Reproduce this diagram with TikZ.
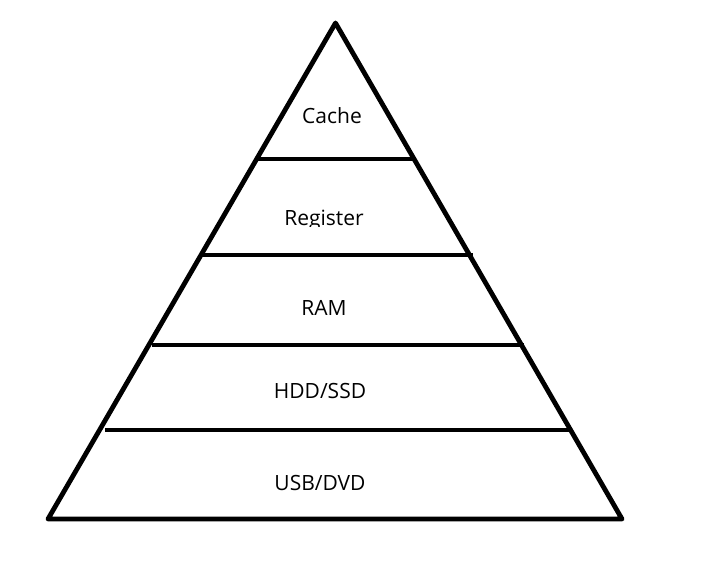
\documentclass[tikz,border=0pt]{standalone}
\usepackage{fontspec}
\setmainfont{Open Sans}
\begin{document}
\begin{tikzpicture}[x=1pt,y=-1pt,
  edge/.style={line width=4.8pt,black},
  lbl/.style={font=\fontsize{21}{24}\selectfont,anchor=base,inner sep=0pt}]
\useasboundingbox (0,0) rectangle (710,586);
\coordinate (apex) at (335.5,23);
\coordinate (bl) at (48,519);
\coordinate (br) at (622,519);
\draw[edge,line join=round] (apex) -- (br) -- (bl) -- cycle;
\coordinate (l1a) at (257,159); \coordinate (l1b) at (414,159);
\coordinate (l2a) at (203,255); \coordinate (l2b) at (473,255);
\coordinate (l3a) at (152,345); \coordinate (l3b) at (524,345);
\coordinate (l4a) at (105,430); \coordinate (l4b) at (570,430);
\draw[edge] (l1a) -- (l1b);
\draw[edge] (l2a) -- (l2b);
\draw[edge] (l3a) -- (l3b);
\draw[edge] (l4a) -- (l4b);
\node[lbl] (cache) at (332,123) {Cache};
\begin{scope}
\clip (200,190) rectangle (480,226);
\node[lbl] (reg) at (324,225) {Register};
\end{scope}
\node[lbl] (ram) at (324,315) {RAM};
\node[lbl] (hdd) at (320,398) {HDD/SSD};
\node[lbl] (usb) at (320,490) {USB/DVD};
\end{tikzpicture}
\end{document}
